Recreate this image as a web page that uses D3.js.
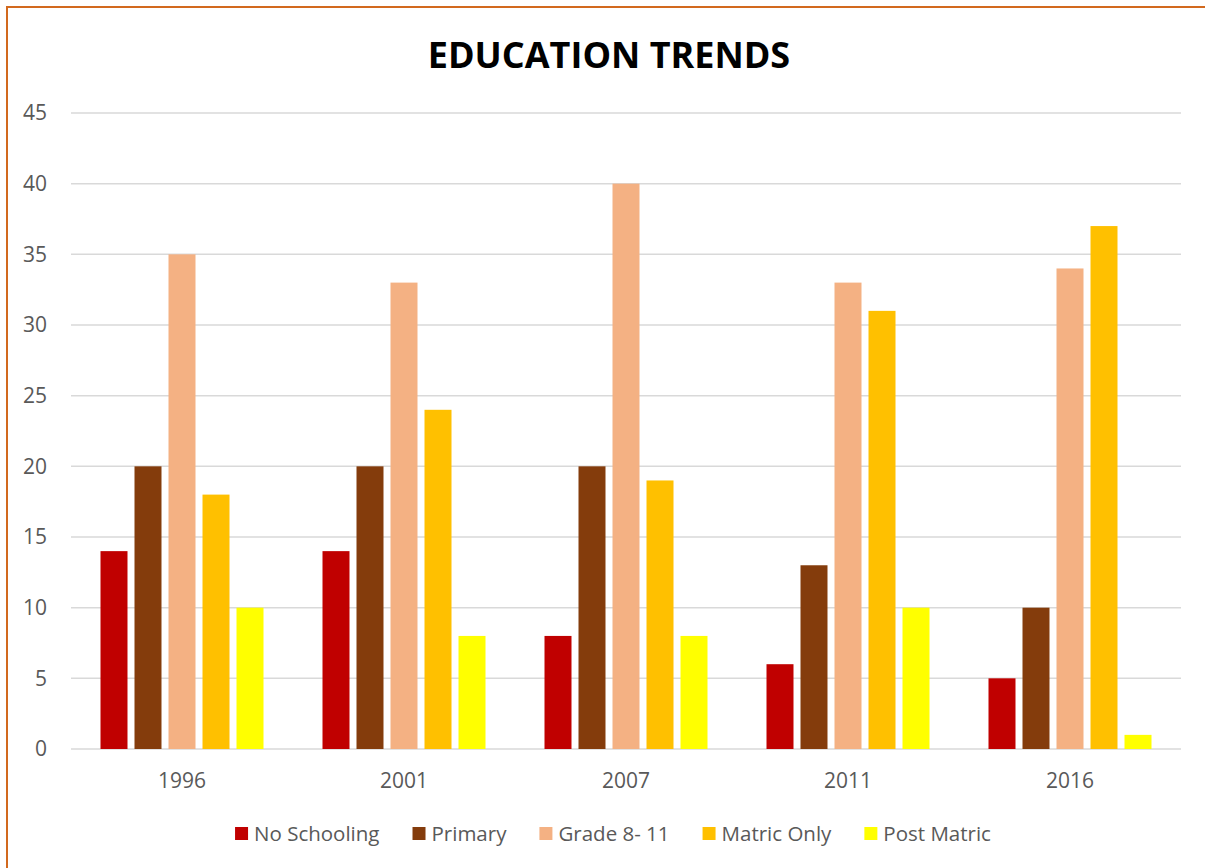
<!DOCTYPE html>
<html>
<head>
<meta charset="utf-8">
<script src="https://cdn.jsdelivr.net/npm/d3@7"></script>
<style>
  html, body { margin: 0; padding: 0; background: #fff; }
  svg { display: block; }
  text { font-family: "Open Sans", "Noto Sans", sans-serif; }
</style>
</head>
<body>
<svg id="chart" width="1205" height="868"></svg>
<script>
// Survey years and education levels
const years = ["1996", "2001", "2007", "2011", "2016"];
const levels = ["No Schooling", "Primary", "Grade 8- 11", "Matric Only", "Post Matric"];
const levelColors = ["#C00000", "#843C0C", "#F4B183", "#FFC000", "#FFFF00"];

// Percentage share of each level, one array per level, in year order
const noSchooling = [14, 14, 8, 6, 5];
const primary     = [20, 20, 20, 13, 10];
const grade8to11  = [35, 33, 40, 33, 34];
const matricOnly  = [18, 24, 19, 31, 37];
const postMatric  = [10, 8, 8, 10, 1];
const seriesValues = [noSchooling, primary, grade8to11, matricOnly, postMatric];

const yTicks = [0, 5, 10, 15, 20, 25, 30, 35, 40, 45];

const svg = d3.select("#chart");
const plot = { left: 71, right: 1181, top: 113, bottom: 749 };

// Outer chart frame
svg.append("rect")
  .attr("x", 7).attr("y", 7)
  .attr("width", 1210).attr("height", 880)
  .attr("fill", "#fff")
  .attr("stroke", "#D2691E")
  .attr("stroke-width", 2);

// Title
svg.append("text")
  .attr("x", 609).attr("y", 68)
  .attr("text-anchor", "middle")
  .attr("font-size", 36)
  .attr("font-weight", "bold")
  .attr("fill", "#000")
  .text("EDUCATION TRENDS");

const x0 = d3.scaleBand().domain(years).range([plot.left, plot.right]).padding(0);
const groupPad = 29.5;
const x1 = d3.scaleBand().domain(levels)
  .range([groupPad, x0.bandwidth() - groupPad])
  .paddingInner(0.206).paddingOuter(0);
const y = d3.scaleLinear().domain([0, 45]).range([plot.bottom, plot.top]);
const color = d3.scaleOrdinal().domain(levels).range(levelColors);

// Horizontal gridlines
svg.append("g")
  .selectAll("line")
  .data(yTicks)
  .join("line")
  .attr("x1", plot.left).attr("x2", plot.right)
  .attr("y1", d => y(d)).attr("y2", d => y(d))
  .attr("stroke", "#D9D9D9")
  .attr("stroke-width", 1.5);

// Y axis labels
const yAxis = d3.axisLeft(y).tickValues(yTicks).tickSize(0).tickPadding(0);
const yG = svg.append("g")
  .attr("transform", `translate(${plot.left - 24},0)`)
  .call(yAxis);
yG.select(".domain").remove();
yG.selectAll("text")
  .attr("font-size", 21)
  .attr("fill", "#595959")
  .attr("font-family", "\"Open Sans\", sans-serif");

// X axis labels
const xAxis = d3.axisBottom(x0).tickSize(0).tickPadding(0);
const xG = svg.append("g")
  .attr("transform", `translate(0,${plot.bottom + 24})`)
  .call(xAxis);
xG.select(".domain").remove();
xG.selectAll("text")
  .attr("font-size", 21)
  .attr("fill", "#595959")
  .attr("font-family", "\"Open Sans\", sans-serif");

// Bars
const rows = years.map((yr, i) => ({
  year: yr,
  values: levels.map((lv, j) => ({ level: lv, value: seriesValues[j][i] }))
}));

svg.append("g")
  .selectAll("g")
  .data(rows)
  .join("g")
  .attr("transform", d => `translate(${x0(d.year)},0)`)
  .selectAll("rect")
  .data(d => d.values)
  .join("rect")
  .attr("x", d => x1(d.level))
  .attr("width", x1.bandwidth())
  .attr("y", d => y(d.value))
  .attr("height", d => y(0) - y(d.value))
  .attr("fill", d => color(d.level));

// Legend
const legend = svg.append("g");
const items = legend.selectAll("g")
  .data(levels)
  .join("g");
items.append("rect")
  .attr("width", 13).attr("height", 13)
  .attr("y", -14)
  .attr("fill", d => color(d));
items.append("text")
  .attr("x", 19)
  .attr("y", 0)
  .attr("font-size", 20.5)
  .attr("fill", "#595959")
  .text(d => d);

let cursor = 0;
const gap = 33;
items.each(function () {
  const g = d3.select(this);
  const w = 19 + g.select("text").node().getComputedTextLength();
  g.attr("transform", `translate(${cursor},0)`);
  cursor += w + gap;
});
const totalW = cursor - gap;
legend.attr("transform", `translate(${613 - totalW / 2},841)`);
</script>
</body>
</html>
